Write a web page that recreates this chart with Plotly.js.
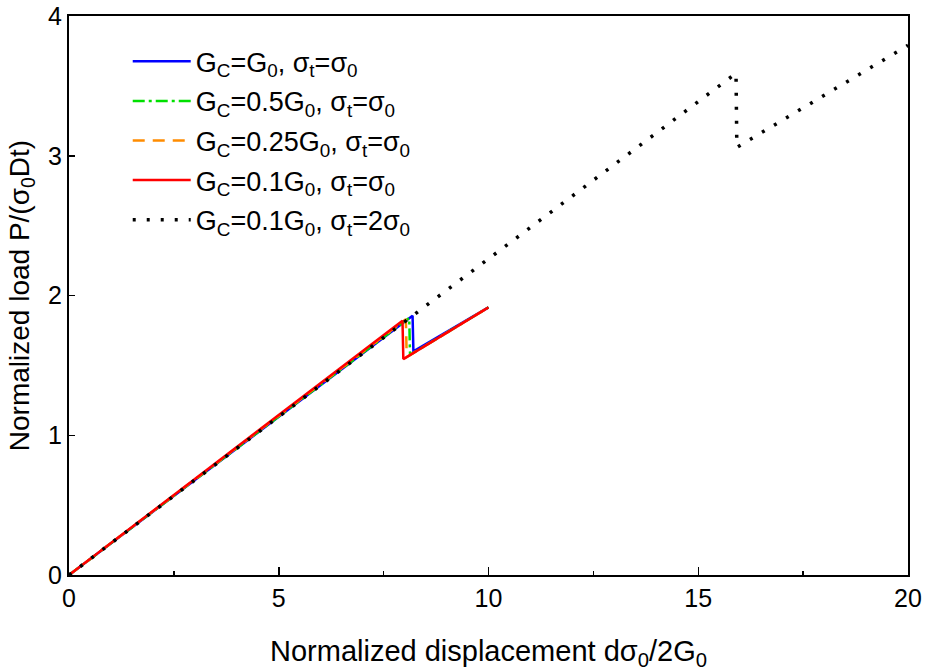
<!DOCTYPE html>
<html>
<head>
<meta charset="utf-8">
<script src="https://cdn.plot.ly/plotly-3.0.1.min.js"></script>
<style>body{margin:0;padding:0;background:#fff}#chart{width:927px;height:671px}</style>
</head>
<body>
<div id="chart"></div>
<script>
// Series data
const seriesNames = [
  "G<sub>C</sub>=G<sub>0</sub>, σ<sub>t</sub>=σ<sub>0</sub>",
  "G<sub>C</sub>=0.5G<sub>0</sub>, σ<sub>t</sub>=σ<sub>0</sub>",
  "G<sub>C</sub>=0.25G<sub>0</sub>, σ<sub>t</sub>=σ<sub>0</sub>",
  "G<sub>C</sub>=0.1G<sub>0</sub>, σ<sub>t</sub>=σ<sub>0</sub>",
  "G<sub>C</sub>=0.1G<sub>0</sub>, σ<sub>t</sub>=2σ<sub>0</sub>"
];
const blueX   = [0, 8.19, 8.21, 10];
const blueY   = [0, 1.855, 1.60, 1.915];
const greenX  = [0, 8.11, 8.13, 10];
const greenY  = [0, 1.84, 1.575, 1.915];
const orangeX = [0, 8.03, 8.05, 10];
const orangeY = [0, 1.83, 1.56, 1.915];
const redX    = [0, 7.95, 7.97, 10];
const redY    = [0, 1.82, 1.545, 1.915];
const blackX  = [0, 8.19, 15.9, 15.92, 20];
const blackY  = [0, 1.855, 3.59, 3.06, 3.79];
const xTicks  = [0, 5, 10, 15, 20];
const yTicks  = [0, 1, 2, 3, 4];

const font = "Arial, 'Liberation Sans', sans-serif";
const mk = (x, y, name, color, dash, width, g) => ({
  x: x, y: y, name: name, type: "scatter", mode: "lines",
  line: {color: color, dash: dash, width: width},
  legendgroup: g
});
const data = [
  mk(blueX, blueY, seriesNames[0], "#0000ff", "solid", 2.5, "a"),
  mk(greenX, greenY, seriesNames[1], "#00e000", "12px,4px,3px,4px", 2.5, "b"),
  mk(orangeX, orangeY, seriesNames[2], "#ff8c00", "12px,8px", 2.5, "c"),
  mk(redX, redY, seriesNames[3], "#ff0000", "solid", 2.5, "d"),
  mk(blackX, blackY, seriesNames[4], "#000000", "3px,11px", 3.5, "e")
];
const layout = {
  width: 927, height: 671,
  margin: {l: 69, r: 19, t: 16, b: 96},
  paper_bgcolor: "#fff", plot_bgcolor: "#fff",
  font: {family: font, color: "#000", size: 24},
  showlegend: true,
  legend: {
    x: 0.07, y: 0.962, xanchor: "left", yanchor: "top",
    bgcolor: "rgba(0,0,0,0)", borderwidth: 0,
    font: {family: font, size: 27, color: "#000"},
    traceorder: "grouped", tracegroupgap: 1.5, itemwidth: 58
  },
  xaxis: {
    range: [0, 20], tickvals: xTicks, ticktext: xTicks.map(String),
    showline: true, linecolor: "#000", linewidth: 2, mirror: true,
    ticks: "inside", ticklen: 8, tickwidth: 1.5, tickcolor: "#000",
    minor: {ticks: "inside", ticklen: 4, tickwidth: 1.5, tickcolor: "#000", dtick: 2.5, showgrid: false},
    showgrid: false, zeroline: false,
    tickfont: {family: font, size: 25},
    title: {text: "Normalized displacement dσ<sub>0</sub>/2G<sub>0</sub>", font: {family: font, size: 29}, standoff: 30}
  },
  yaxis: {
    range: [0, 4], tickvals: yTicks, ticktext: yTicks.map(String),
    showline: true, linecolor: "#000", linewidth: 2, mirror: true,
    ticks: "inside", ticklen: 6, tickwidth: 1.5, tickcolor: "#000",
    showgrid: false, zeroline: false,
    tickfont: {family: font, size: 25},
    title: {text: "Normalized load P/(σ<sub>0</sub>Dt)", font: {family: font, size: 28}, standoff: 10}
  }
};
Plotly.newPlot("chart", data, layout, {displayModeBar: false, staticPlot: true});
</script>
</body>
</html>
